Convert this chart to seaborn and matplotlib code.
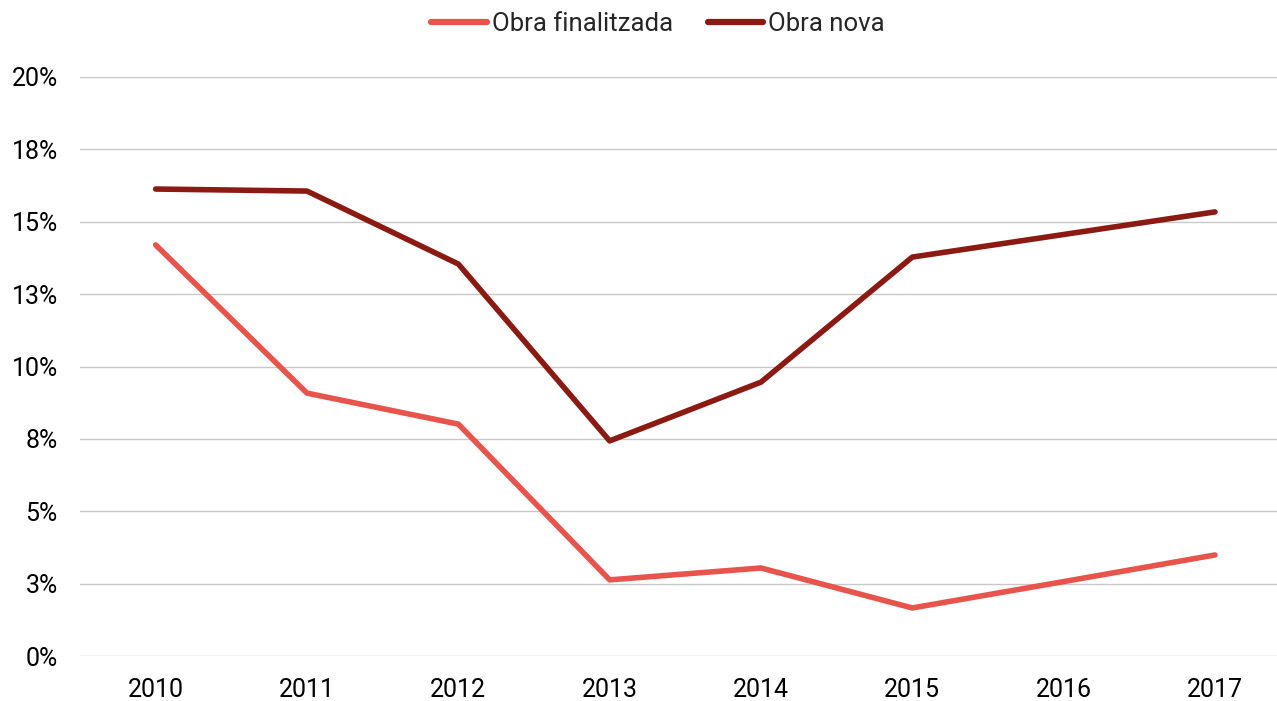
import pandas as pd
import matplotlib.pyplot as plt
import seaborn as sns
from matplotlib.ticker import FuncFormatter

years = [2010, 2011, 2012, 2013, 2014, 2015, 2016, 2017]
obra_finalitzada = [14.2, 9.08, 8.01, 2.63, 3.04, 1.66, 2.57, 3.49]
obra_nova = [16.13, 16.06, 13.54, 7.43, 9.46, 13.78, 14.56, 15.34]
series_names = ["Obra finalitzada", "Obra nova"]
colors = ["#E8534B", "#8B1A12"]
y_ticks = [0, 2.5, 5, 7.5, 10, 12.5, 15, 17.5, 20]

df = pd.DataFrame({
    "pos": list(range(len(years))) * 2,
    "value": obra_finalitzada + obra_nova,
    "serie": [series_names[0]] * len(years) + [series_names[1]] * len(years),
})

sns.set_style("white")
plt.rcParams['font.family'] = ['Roboto', 'DejaVu Sans']

W, H = 1277, 701
fig = plt.figure(figsize=(W / 100, H / 100), dpi=100)
ax = fig.add_axes([80 / W, 1 - 656 / H, 1 - 80 / W, (656 - 77) / H])

sns.lineplot(data=df, x="pos", y="value", hue="serie", palette=colors,
             linewidth=4, ax=ax, legend=True)

ax.set_ylim(0, 20)
ax.set_xlim(-0.5, 7 + 62 / 151.3)
ax.set_yticks(y_ticks)
# etiquetes arrodonides com a l'original (2.5 -> 3%, 7.5 -> 8% ...)
ax.yaxis.set_major_formatter(FuncFormatter(lambda v, _: f"{int(v + 0.5)}%"))
ax.set_xticks(range(len(years)))
ax.set_xticklabels([str(y) for y in years])
ax.tick_params(axis='both', labelsize=18, length=0, colors='black')
ax.tick_params(axis='y', pad=16)
ax.tick_params(axis='x', pad=16)
ax.grid(axis='y', color='#C8C8C8', linewidth=1)
ax.set_xlabel("")
ax.set_ylabel("")
for s in ax.spines.values():
    s.set_visible(False)

handles, labels = ax.get_legend_handles_labels()
ax.get_legend().remove()
leg = fig.legend(handles, labels, loc='center', bbox_to_anchor=(658 / W, 1 - 24 / H),
                 ncol=2, frameon=False, fontsize=18.5, handlelength=2.15,
                 handletextpad=0.2, columnspacing=1.35)
for line in leg.get_lines():
    line.set_linewidth(4.5)

fig.savefig("out.png", dpi=100)
